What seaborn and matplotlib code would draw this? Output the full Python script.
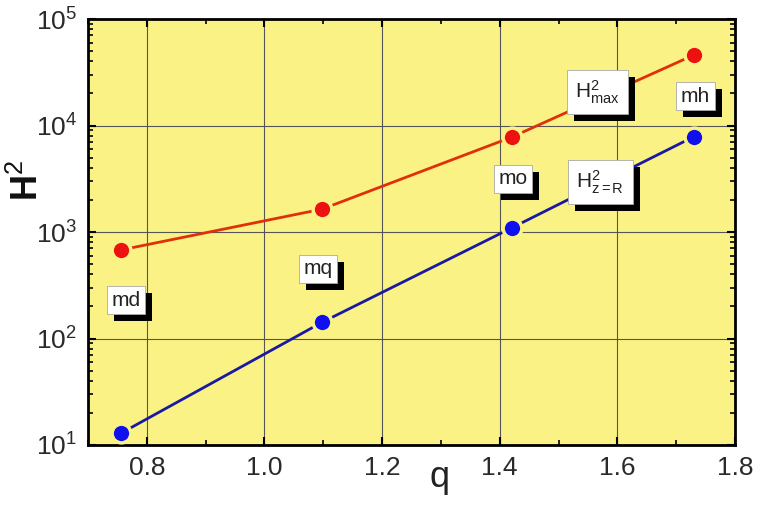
import numpy as np
import pandas as pd
import matplotlib
matplotlib.use("Agg")
import matplotlib.pyplot as plt
import matplotlib.patheffects as pe
from matplotlib.ticker import MultipleLocator, LogLocator, NullFormatter
import seaborn as sns

# ---- data ----
q_values = [0.756, 1.098, 1.421, 1.730]
h2_max = [678, 1640, 7800, 45900]
h2_zR = [12.9, 142, 1097, 7850]
model_labels = ["md", "mq", "mo", "mh"]
model_label_q = [0.765, 1.091, 1.423, 1.733]
model_label_y = [229, 450, 3150, 18900]
series_labels = [r"H$^{2}_{\mathrm{max}}$", r"H$^{2}_{\mathrm{z=R}}$"]
series_label_q = [1.566, 1.571]
series_label_y = [20600, 2950]
x_ticks = [0.8, 1.0, 1.2, 1.4, 1.6, 1.8]

sns.set_style("white")
plt.rcParams["font.family"] = ["Liberation Sans", "DejaVu Sans"]
plt.rcParams["mathtext.fontset"] = "custom"
plt.rcParams["mathtext.rm"] = "Liberation Sans"
plt.rcParams["mathtext.it"] = "Liberation Sans:italic"
plt.rcParams["mathtext.bf"] = "Liberation Sans:bold"
plt.rcParams["mathtext.default"] = "regular"

BG = "#FBF285"

fig = plt.figure(figsize=(7.58, 5.07), dpi=100)
ax = fig.add_axes([88/758, 1-445/507, (735-88)/758, (445-19)/507])
ax.set_facecolor(BG)

df = pd.DataFrame({"q": q_values, "max": h2_max, "zR": h2_zR})

sns.lineplot(data=df, x="q", y="max", ax=ax, color="#E0300A", lw=2.0,
             marker="o", markersize=13.5, markerfacecolor="#EE1111",
             markeredgecolor=BG, markeredgewidth=2.5, zorder=4)
sns.lineplot(data=df, x="q", y="zR", ax=ax, color="#1A1AA0", lw=2.0,
             marker="o", markersize=13.5, markerfacecolor="#1010EE",
             markeredgecolor=BG, markeredgewidth=2.5, zorder=4)

ax.set_yscale("log")
ax.set_xlim(0.7, 1.8)
ax.set_ylim(10, 1e5)
ax.set_xticks(x_ticks)
ax.set_xticklabels([f"{t:.1f}" for t in x_ticks])
ax.xaxis.set_minor_locator(MultipleLocator(0.1))
ax.yaxis.set_minor_locator(LogLocator(base=10, subs=np.arange(2, 10)))
ax.yaxis.set_minor_formatter(NullFormatter())

ax.grid(True, which="major", color="#555555", lw=0.8, zorder=1)
ax.set_axisbelow(True)
ax.tick_params(which="both", direction="in", top=True, right=True,
               bottom=True, left=True, color="black")
ax.tick_params(which="major", length=6, width=1.5, labelsize=19, pad=8,
               labelcolor="#2a2a2a")
ax.tick_params(which="minor", length=3.5, width=1.2)
for s in ax.spines.values():
    s.set_color("black")
    s.set_linewidth(2)
    s.set_visible(True)

ax.set_xlabel("q", fontsize=26, color="#222222")
ax.set_ylabel(r"$\mathbf{H}^{2}$", fontsize=26, color="#111111")
ax.xaxis.set_label_coords(0.544, -0.035)
ax.yaxis.set_label_coords(-0.065, 0.62)


def boxed(text, x, y, size, pad):
    t = ax.text(x, y, text, ha="center", va="center", fontsize=size,
                color="#222222", zorder=7,
                bbox=dict(boxstyle=f"square,pad={pad}", fc="white",
                          ec="#aaaaaa", lw=0.6))
    t.get_bbox_patch().set_path_effects([
        pe.SimplePatchShadow(offset=(5, -5), shadow_rgbFace="black", alpha=1.0),
        pe.Normal(),
    ])


for t, x, y in zip(model_labels, model_label_q, model_label_y):
    boxed(t, x, y, 15, 0.22)
for t, x, y in zip(series_labels, series_label_q, series_label_y):
    boxed(t, x, y, 15, 0.4)

fig.savefig("out.png", dpi=100)
